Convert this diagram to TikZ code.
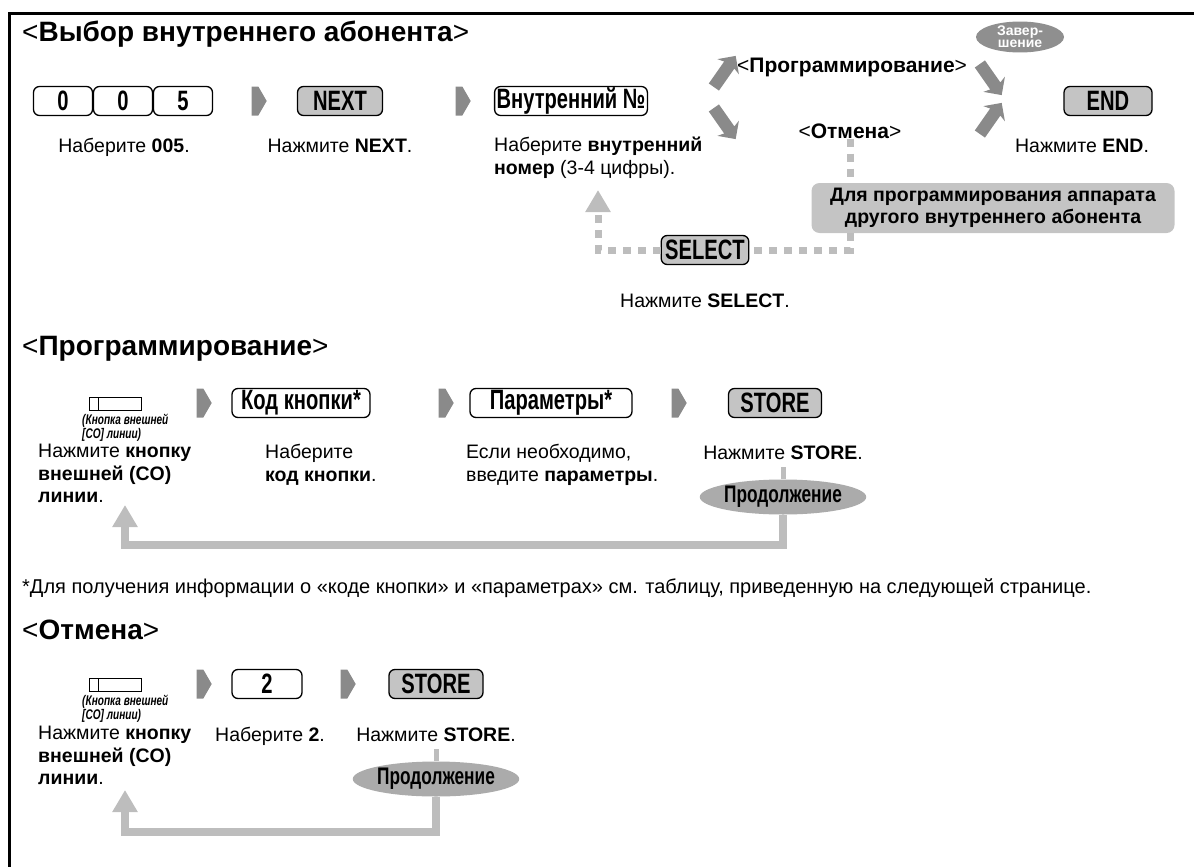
\documentclass[tikz,border=0pt]{standalone}
\usepackage{fontspec}
\setmainfont{Liberation Sans}
\newfontfamily\keyfont[FakeStretch=0.72]{Liberation Sans}
\usetikzlibrary{shapes.geometric, shapes.symbols, shapes.arrows, arrows.meta, positioning}

\definecolor{keygray}{HTML}{C4C4C4}
\definecolor{arrowgray}{HTML}{8A8A8A}
\definecolor{loopgray}{HTML}{BDBDBD}
\definecolor{ovalgray}{HTML}{ABABAB}
\definecolor{endgray}{HTML}{8F8F8F}

\newcommand{\fs}[2]{\fontsize{#1}{#2}\selectfont}

\begin{document}
\begin{tikzpicture}[x=1pt, y=-1pt,
    softkey/.style={draw, line width=1.3pt, rounded corners=6pt, minimum height=29pt, inner xsep=4pt, inner ysep=0pt, font=\keyfont\bfseries\fs{28}{28}},
    graykey/.style={softkey, fill=keygray},
    stepmark/.style={signal, signal to=east, signal pointer angle=120, fill=arrowgray, minimum width=15pt, minimum height=29pt, inner sep=0pt},
    fatarrow/.style={single arrow, fill=arrowgray, minimum height=38pt, inner sep=6pt, single arrow head extend=7pt, single arrow head indent=2pt},
    hint/.style={anchor=north west, align=left, inner sep=0pt, font=\fs{19.5}{22.5}, execute at begin node=\strut},
    hintc/.style={hint, anchor=north},
    heading/.style={anchor=west, inner sep=0pt, font=\fs{28}{28}},
    coicon/.style={draw, line width=1pt, minimum width=52pt, minimum height=13pt, inner sep=0pt},
    colbl/.style={anchor=north west, align=left, inner sep=0pt, font=\keyfont\bfseries\itshape\fs{14}{13}},
    contoval/.style={ellipse, fill=ovalgray, minimum width=140pt, minimum height=35pt, inner sep=0pt, font=\keyfont\bfseries\fs{24}{24}},
    dashline/.style={draw=loopgray, line width=7pt, dash pattern=on 8pt off 7pt},
    loopline/.style={draw=loopgray, line width=8pt},
    stemline/.style={draw=loopgray, line width=5pt},
  ]
  \useasboundingbox (0,0) rectangle (1194,867);
  % frame
  \draw[line width=3pt] (9,867) -- (9,14) -- (1194,14);

  % ---- Выбор внутреннего абонента ----
  \node[heading] (title1) at (22,34) {<\textbf{Выбор внутреннего абонента}>};

  \node[softkey, minimum width=59pt] (k1) at (63,101) {0};
  \node[softkey, minimum width=59pt] (k2) at (123,101) {0};
  \node[softkey, minimum width=59pt] (k3) at (183,101) {5};
  \node[stepmark] (s1) at (255,101) {};
  \node[graykey, minimum width=85pt] (next) at (340,101) {NEXT};
  \node[stepmark] (s2) at (459,101) {};
  \node[softkey, inner xsep=2pt] (extno) at (571,101) {Внутренний №};

  \node[fatarrow, rotate=55] (up1) at (723,74) {};
  \node[fatarrow, rotate=-55] (dn1) at (723,121) {};
  \node[anchor=west, inner sep=0pt, font=\fs{21}{21}] (prg) at (737,67) {<\textbf{Программирование}>};
  \node[anchor=center, inner sep=0pt, font=\fs{21}{21}] (otm) at (850,131) {<\textbf{Отмена}>};
  \node[fatarrow, rotate=-55] (dn2) at (989,77) {};
  \node[fatarrow, rotate=55] (up2) at (989,121) {};
  \node[ellipse, fill=endgray, text=white, align=center, minimum width=88pt, minimum height=27pt, inner sep=0pt, font=\bfseries\fs{14}{12}] (fin) at (1020,37) {Завер-\\шение};
  \node[graykey, minimum width=88pt] (endkey) at (1108,101) {END};

  \node[hintc] (t1) at (124,137) {Наберите \textbf{005}.};
  \node[hintc] (t2) at (340,137) {Нажмите \textbf{NEXT}.};
  \node[hint] (t3) at (494,137) {Наберите \textbf{внутренний}\\\textbf{номер} (3-4 цифры).};
  \node[hintc] (t4) at (1082,137) {Нажмите \textbf{END}.};

  \node[fill=keygray, rounded corners=8pt, minimum width=363pt, minimum height=50pt, inner sep=0pt, align=center, font=\bfseries\fs{19.5}{22}] (other) at (993,208) {Для программирования аппарата\\другого внутреннего абонента};
  \node[graykey] (select) at (705,250) {SELECT};
  \node[hintc] (t5) at (705,292) {Нажмите \textbf{SELECT}.};

  % dashed return
  \coordinate (selup) at (598,190);
  \draw[dashline] (otm.south) -- (otm.south |- other.north);
  \draw[dashline] (otm.south |- other.south) |- (select.east);
  \draw[dashline, -{Triangle[length=22pt, width=24pt]}] (select.west) -| (selup);

  % ---- Программирование ----
  \node[heading] (title2) at (22,349) {<\textbf{Программирование}>};

  \node[coicon] (co1) at (115,404) {};
  \draw[line width=1pt] ([xshift=10pt]co1.north west) -- ([xshift=10pt]co1.south west);
  \node[colbl] (co1lbl) at (82,414) {(Кнопка внешней\\{[CO]} линии)};
  \node[stepmark] (s3) at (200,403) {};
  \node[softkey, minimum width=138pt] (code) at (301,403) {Код кнопки*};
  \node[stepmark] (s4) at (442,403) {};
  \node[softkey, minimum width=162pt] (param) at (551,403) {Параметры*};
  \node[stepmark] (s5) at (675,403) {};
  \node[graykey, minimum width=93pt] (store1) at (775,403) {STORE};

  \node[hint] (t6) at (38,444) {Нажмите \textbf{кнопку}\\\textbf{внешней (CO)}\\\textbf{линии}.};
  \node[hint] (t7) at (265,444) {Наберите\\\textbf{код кнопки}.};
  \node[hint] (t8) at (466,444) {Если необходимо,\\введите \textbf{параметры}.};
  \node[hintc] (t9) at (783,444) {Нажмите \textbf{STORE}.};

  \node[contoval] (cont1) at (783,497) {Продолжение};
  \draw[stemline] (cont1.north) -- (cont1.north |- t9.south);
  \coordinate (back1) at (125,505);
  \coordinate (turn1) at (125,545);
  \draw[loopline, -{Triangle[length=22pt, width=24pt]}] (cont1.south) |- (turn1) -- (back1);

  \node[anchor=west, inner sep=0pt, font=\fs{20}{20}] (note) at (22,588) {*Для получения информации о «коде кнопки» и «параметрах» см. таблицу, приведенную на следующей странице.};

  % ---- Отмена ----
  \node[heading] (title3) at (22,630) {<\textbf{Отмена}>};

  \node[coicon] (co2) at (115,685) {};
  \draw[line width=1pt] ([xshift=10pt]co2.north west) -- ([xshift=10pt]co2.south west);
  \node[colbl] (co2lbl) at (82,695) {(Кнопка внешней\\{[CO]} линии)};
  \node[stepmark] (s6) at (200,684) {};
  \node[softkey, minimum width=70pt] (two) at (267,684) {2};
  \node[stepmark] (s7) at (344,684) {};
  \node[graykey, minimum width=94pt] (store2) at (436,684) {STORE};

  \node[hint] (t10) at (38,726) {Нажмите \textbf{кнопку}\\\textbf{внешней (CO)}\\\textbf{линии}.};
  \node[hint] (t11) at (215,726) {Наберите \textbf{2}.};
  \node[hintc] (t12) at (436,726) {Нажмите \textbf{STORE}.};

  \node[contoval] (cont2) at (436,779) {Продолжение};
  \draw[stemline] (cont2.north) -- (cont2.north |- t12.south);
  \coordinate (back2) at (125,790);
  \coordinate (turn2) at (125,832);
  \draw[loopline, -{Triangle[length=22pt, width=24pt]}] (cont2.south) |- (turn2) -- (back2);
\end{tikzpicture}
\end{document}
